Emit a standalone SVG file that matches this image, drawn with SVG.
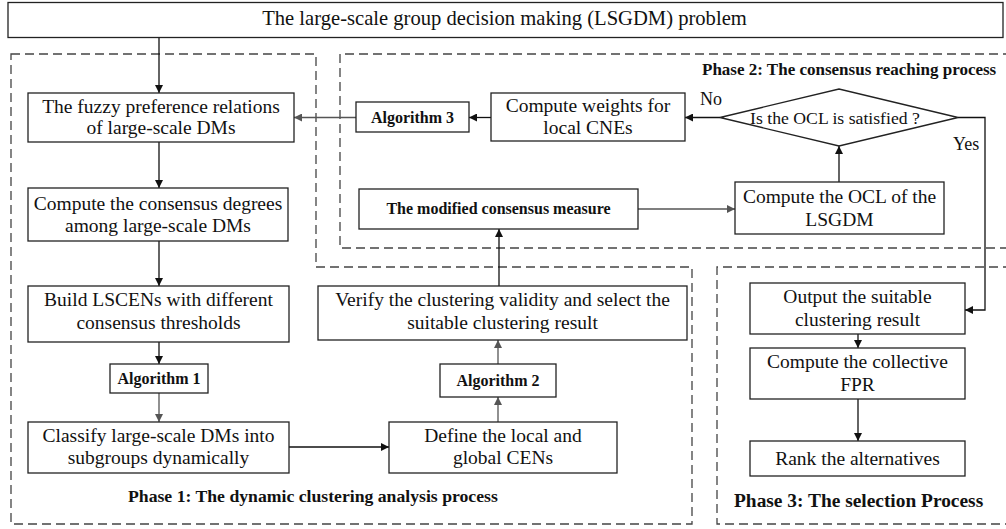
<svg xmlns="http://www.w3.org/2000/svg" width="1006" height="529" viewBox="0 0 1006 529">
  <style>
    .box { fill: #fff; stroke: #222; stroke-width: 1.3; }
    .zone { fill: none; stroke: #444; stroke-width: 1.3; stroke-dasharray: 9 5; }
    .t { font-family: "Liberation Serif", "Times New Roman", serif; font-size: 19.5px; fill: #111; text-anchor: middle; }
    .title { font-size: 20.6px; }
    .b { font-family: "Liberation Serif", "Times New Roman", serif; font-weight: bold; font-size: 16px; fill: #111; text-anchor: middle; }
    .phase { font-family: "Liberation Serif", "Times New Roman", serif; font-weight: bold; font-size: 17.7px; fill: #111; }
    .lbl { font-family: "Liberation Serif", "Times New Roman", serif; font-size: 18px; fill: #111; }
    .k { fill: none; stroke: #111; stroke-width: 1.3; marker-end: url(#ak); }
    .g { fill: none; stroke: #555; stroke-width: 1.3; marker-end: url(#ag); }
  </style>
  <defs>
    <marker id="ak" viewBox="0 0 10 10" refX="10" refY="5" markerWidth="9" markerHeight="8" markerUnits="userSpaceOnUse" orient="auto">
      <path d="M0,0 L10,5 L0,10 Z" fill="#111"/>
    </marker>
    <marker id="ag" viewBox="0 0 10 10" refX="10" refY="5" markerWidth="9" markerHeight="8" markerUnits="userSpaceOnUse" orient="auto">
      <path d="M0,0 L10,5 L0,10 Z" fill="#555"/>
    </marker>
  </defs>
  <rect width="1006" height="529" fill="#fff"/>

  <!-- phase regions -->
  <g id="zones">
    <path class="zone" d="M11,54 H316 V267 H692 V524 H11 Z"/>
    <path class="zone" d="M1012,54 H340 V248 H1012"/>
    <path class="zone" d="M1012,267 H717 V524 H1012"/>
    <text class="phase" x="128" y="502">Phase 1: The dynamic clustering analysis process</text>
    <text class="phase" style="font-size:17px" x="702" y="75">Phase 2: The consensus reaching process</text>
    <text class="phase" style="font-size:19.4px" x="734" y="507">Phase 3: The selection Process</text>
  </g>

  <!-- connectors -->
  <g id="connectors">
    <path class="k" d="M159,37.5 V93"/>
    <path class="k" d="M159,142 V188"/>
    <path class="k" d="M159,241 V286"/>
    <path class="k" d="M159,342 V364"/>
    <path class="g" d="M159,393 V422"/>
    <path class="k" d="M289,447 H389"/>
    <path class="g" d="M498,422 V397"/>
    <path class="g" d="M498,364 V340"/>
    <path class="k" d="M499,286 V229"/>
    <path class="g" d="M638,209 H735"/>
    <path class="k" d="M839,182 V146"/>
    <path class="k" d="M720,117.5 H685"/>
    <path class="k" d="M491,117.5 H469"/>
    <path class="g" d="M356,117.5 H294"/>
    <path class="k" d="M958,117.5 H985 V310 H965"/>
    <path class="k" d="M858,334 V348"/>
    <path class="k" d="M858,399 V441"/>
    <text class="lbl" x="700" y="105">No</text>
    <text class="lbl" x="953" y="150">Yes</text>
  </g>

  <g id="n-problem">
    <rect class="box" x="8" y="2.5" width="995" height="35"/>
    <text class="t title" x="504.5" y="25">The large-scale group decision making (LSGDM) problem</text>
  </g>
  <g id="n-fpr">
    <rect class="box" x="28" y="93" width="266" height="49"/>
    <text class="t" x="161" y="113">The fuzzy preference relations</text>
    <text class="t" x="161" y="134">of large-scale DMs</text>
  </g>
  <g id="n-degrees">
    <rect class="box" x="28" y="188" width="260" height="53"/>
    <text class="t" x="158" y="209.5">Compute the consensus degrees</text>
    <text class="t" x="158" y="231.5">among large-scale DMs</text>
  </g>
  <g id="n-lscen">
    <rect class="box" x="28" y="286" width="261" height="56"/>
    <text class="t" x="158.5" y="306">Build LSCENs with different</text>
    <text class="t" x="158.5" y="329">consensus thresholds</text>
  </g>
  <g id="n-alg1">
    <rect class="box" x="110" y="364" width="98" height="29"/>
    <text class="b" x="159" y="384">Algorithm 1</text>
  </g>
  <g id="n-classify">
    <rect class="box" x="28" y="422" width="261" height="51"/>
    <text class="t" x="158.5" y="442">Classify large-scale DMs into</text>
    <text class="t" x="158.5" y="464">subgroups dynamically</text>
  </g>
  <g id="n-cens">
    <rect class="box" x="389" y="422" width="228" height="51"/>
    <text class="t" x="503" y="442">Define the local and</text>
    <text class="t" x="503" y="464">global CENs</text>
  </g>
  <g id="n-alg2">
    <rect class="box" x="440" y="364" width="116" height="33"/>
    <text class="b" x="498" y="386">Algorithm 2</text>
  </g>
  <g id="n-verify">
    <rect class="box" x="318" y="286" width="369" height="54"/>
    <text class="t" x="502.5" y="306">Verify the clustering validity and select the</text>
    <text class="t" x="502.5" y="329">suitable clustering result</text>
  </g>
  <g id="n-measure">
    <rect class="box" x="359" y="189" width="279" height="40"/>
    <text class="b" x="498.5" y="214">The modified consensus measure</text>
  </g>
  <g id="n-alg3">
    <rect class="box" x="356" y="102" width="113" height="30"/>
    <text class="b" x="412.5" y="122.5">Algorithm 3</text>
  </g>
  <g id="n-weights">
    <rect class="box" x="491" y="93" width="194" height="48"/>
    <text class="t" x="588" y="112">Compute weights for</text>
    <text class="t" x="588" y="134">local CNEs</text>
  </g>
  <g id="n-check">
    <polygon class="box" points="720,117.5 839,89 958,117.5 839,146"/>
    <text class="t" style="font-size:17.7px" x="835" y="124">Is the OCL is satisfied ?</text>
  </g>
  <g id="n-ocl">
    <rect class="box" x="735" y="182" width="209" height="52"/>
    <text class="t" x="839.5" y="203">Compute the OCL of the</text>
    <text class="t" x="839.5" y="226">LSGDM</text>
  </g>
  <g id="n-output">
    <rect class="box" x="750" y="283" width="215" height="51"/>
    <text class="t" x="857.5" y="303">Output the suitable</text>
    <text class="t" x="857.5" y="326">clustering result</text>
  </g>
  <g id="n-fpr-collective">
    <rect class="box" x="750" y="348" width="215" height="51"/>
    <text class="t" x="857.5" y="368">Compute the collective</text>
    <text class="t" x="857.5" y="391">FPR</text>
  </g>
  <g id="n-rank">
    <rect class="box" x="750" y="441" width="215" height="35"/>
    <text class="t" x="857.5" y="465">Rank the alternatives</text>
  </g>
</svg>
